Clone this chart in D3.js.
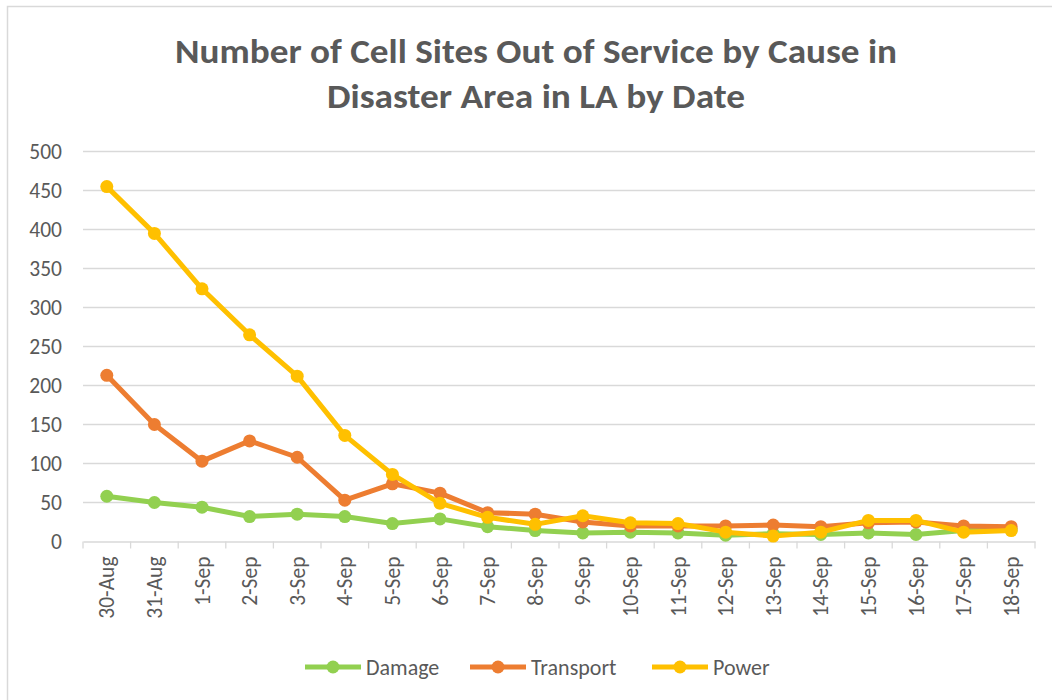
<!DOCTYPE html>
<html><head><meta charset="utf-8">
<script src="https://cdn.jsdelivr.net/npm/d3@7"></script>
<style>body{margin:0;background:#fff}svg{display:block}</style>
</head><body>
<svg id="c" width="1052" height="700"></svg>
<script>
const dates = ["30-Aug","31-Aug","1-Sep","2-Sep","3-Sep","4-Sep","5-Sep","6-Sep","7-Sep","8-Sep","9-Sep","10-Sep","11-Sep","12-Sep","13-Sep","14-Sep","15-Sep","16-Sep","17-Sep","18-Sep"];
const damage = [58,50,44,32,35,32,23,29,19,14,11,12,11,8,10,9,11,9,14,15];
const transport = [213,150,103,129,108,53,74,62,37,35,25,20,20,20,21,19,24,25,20,19];
const power = [455,395,324,265,212,136,86,49,31,22,33,24,23,12,7,12,27,27,12,14];
const yTicks = [0,50,100,150,200,250,300,350,400,450,500];
const seriesNames = ["Damage","Transport","Power"];
const seriesColors = ["#92D050","#ED7D31","#FFC000"];
const seriesData = [damage, transport, power];

const svg = d3.select("#c");
const font = "Carlito, Calibri, Lato, sans-serif";
const grey = "#595959";

svg.append("rect").attr("x",7.5).attr("y",6.5).attr("width",1060).attr("height",700)
  .attr("fill","none").attr("stroke","#d9d9d9").attr("stroke-width",1.5);

const L = 83, R = 1035, T = 151.5, B = 541.5;
const x = d3.scaleBand().domain(dates).range([L,R]);
const y = d3.scaleLinear().domain([0,500]).range([B,T]);

// title
const titleLines = ["Number of Cell Sites Out of Service by Cause in","Disaster Area in LA by Date"];
const titleW = [722, 418];
titleLines.forEach((t,i)=>{
  svg.append("text").attr("x",536).attr("y",63+i*45).attr("text-anchor","middle")
    .attr("font-family",font).attr("font-weight","bold").attr("font-size",35)
    .attr("fill",grey).attr("textLength",titleW[i]).attr("lengthAdjust","spacingAndGlyphs").text(t);
});

// grid
svg.append("g").selectAll("line").data(yTicks.filter(d=>d>0)).join("line")
  .attr("x1",L).attr("x2",R).attr("y1",d=>y(d)).attr("y2",d=>y(d))
  .attr("stroke","#d9d9d9").attr("stroke-width",1.3);

// y axis labels
const ya = svg.append("g").attr("transform",`translate(${L},0)`)
  .call(d3.axisLeft(y).tickValues(yTicks).tickSize(0).tickPadding(21));
ya.select(".domain").remove();
ya.selectAll("text").attr("font-family",font).attr("font-size",21.5).attr("fill",grey);

// x axis
const xa = svg.append("g").attr("transform",`translate(0,${B})`)
  .call(d3.axisBottom(x).tickSize(0));
xa.select(".domain").attr("stroke","#d9d9d9").attr("stroke-width",1.3);
xa.selectAll("text").attr("font-family",font).attr("font-size",21.5).attr("fill",grey)
  .attr("transform","rotate(-90)").attr("text-anchor","end").attr("dx","-15").attr("dy","0.35em").attr("y",0).attr("x",0);
const boundaries = dates.map(d=>x(d)).concat([R]);
svg.append("g").selectAll("line").data(boundaries).join("line")
  .attr("x1",d=>d).attr("x2",d=>d).attr("y1",B).attr("y2",B+7)
  .attr("stroke","#d9d9d9").attr("stroke-width",1.3);

const cx = d=>x(d)+x.bandwidth()/2;
const line = d3.line().x((v,i)=>cx(dates[i])).y(v=>y(v));
seriesData.forEach((arr,k)=>{
  const g = svg.append("g");
  g.append("path").attr("d",line(arr)).attr("fill","none").attr("stroke",seriesColors[k])
    .attr("stroke-width",5).attr("stroke-linejoin","round");
  g.selectAll("circle").data(arr).join("circle")
    .attr("cx",(v,i)=>cx(dates[i])).attr("cy",v=>y(v)).attr("r",6.5).attr("fill",seriesColors[k]);
});

// legend
const legX = [305, 470, 652];
seriesNames.forEach((n,k)=>{
  const g = svg.append("g").attr("transform",`translate(${legX[k]},667)`);
  g.append("line").attr("x1",0).attr("x2",56).attr("stroke",seriesColors[k]).attr("stroke-width",5);
  g.append("circle").attr("cx",28).attr("r",6.5).attr("fill",seriesColors[k]);
  g.append("text").attr("x",61).attr("y",0).attr("dy","0.35em").attr("font-family",font)
    .attr("font-size",22).attr("fill",grey).text(n);
});
</script>
</body></html>
